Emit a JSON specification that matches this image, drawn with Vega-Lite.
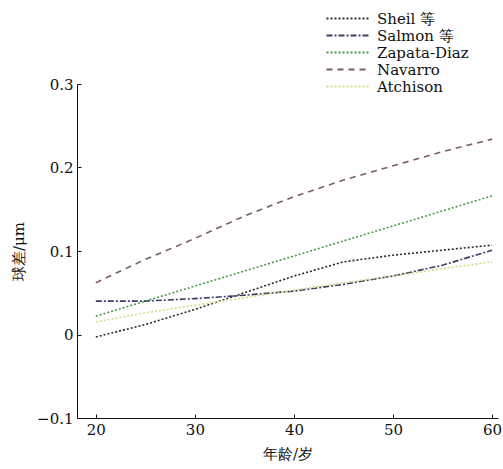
{
  "$schema": "https://vega.github.io/schema/vega-lite/v6.json",
  "autosize": "none",
  "width": 421,
  "height": 334,
  "padding": {"left": 77, "top": 84, "right": 5, "bottom": 51},
  "background": "white",
  "config": {
    "view": {"stroke": null},
    "font": "DejaVu Serif",
    "axis": {"labelFont": "DejaVu Serif", "labelFontSize": 15, "labelColor": "#111", "titleFont": "DejaVu Serif", "titleFontSize": 15, "titleFontWeight": "normal", "titleColor": "#111", "domainColor": "#111", "tickColor": "#111", "grid": false},
    "legend": {"labelFont": "DejaVu Serif"}
  },
  "data": {"values": [
    {"age": 20, "v": -0.003, "s": "Sheil 等"}, {"age": 25, "v": 0.012, "s": "Sheil 等"}, {"age": 30, "v": 0.03, "s": "Sheil 等"}, {"age": 35, "v": 0.05, "s": "Sheil 等"}, {"age": 40, "v": 0.07, "s": "Sheil 等"}, {"age": 45, "v": 0.087, "s": "Sheil 等"}, {"age": 50, "v": 0.095, "s": "Sheil 等"}, {"age": 55, "v": 0.101, "s": "Sheil 等"}, {"age": 60, "v": 0.107, "s": "Sheil 等"},
    {"age": 20, "v": 0.04, "s": "Salmon 等"}, {"age": 25, "v": 0.04, "s": "Salmon 等"}, {"age": 30, "v": 0.043, "s": "Salmon 等"}, {"age": 35, "v": 0.047, "s": "Salmon 等"}, {"age": 40, "v": 0.052, "s": "Salmon 等"}, {"age": 45, "v": 0.06, "s": "Salmon 等"}, {"age": 50, "v": 0.07, "s": "Salmon 等"}, {"age": 55, "v": 0.083, "s": "Salmon 等"}, {"age": 60, "v": 0.101, "s": "Salmon 等"},
    {"age": 20, "v": 0.022, "s": "Zapata-Diaz"}, {"age": 25, "v": 0.04, "s": "Zapata-Diaz"}, {"age": 30, "v": 0.058, "s": "Zapata-Diaz"}, {"age": 35, "v": 0.076, "s": "Zapata-Diaz"}, {"age": 40, "v": 0.094, "s": "Zapata-Diaz"}, {"age": 45, "v": 0.112, "s": "Zapata-Diaz"}, {"age": 50, "v": 0.13, "s": "Zapata-Diaz"}, {"age": 55, "v": 0.148, "s": "Zapata-Diaz"}, {"age": 60, "v": 0.166, "s": "Zapata-Diaz"},
    {"age": 20, "v": 0.062, "s": "Navarro"}, {"age": 25, "v": 0.09, "s": "Navarro"}, {"age": 30, "v": 0.115, "s": "Navarro"}, {"age": 35, "v": 0.142, "s": "Navarro"}, {"age": 40, "v": 0.165, "s": "Navarro"}, {"age": 45, "v": 0.185, "s": "Navarro"}, {"age": 50, "v": 0.202, "s": "Navarro"}, {"age": 55, "v": 0.219, "s": "Navarro"}, {"age": 60, "v": 0.234, "s": "Navarro"},
    {"age": 20, "v": 0.015, "s": "Atchison"}, {"age": 25, "v": 0.026, "s": "Atchison"}, {"age": 30, "v": 0.035, "s": "Atchison"}, {"age": 35, "v": 0.044, "s": "Atchison"}, {"age": 40, "v": 0.053, "s": "Atchison"}, {"age": 45, "v": 0.062, "s": "Atchison"}, {"age": 50, "v": 0.07, "s": "Atchison"}, {"age": 55, "v": 0.079, "s": "Atchison"}, {"age": 60, "v": 0.087, "s": "Atchison"}
  ]},
  "mark": {"type": "line", "strokeWidth": 1.6},
  "encoding": {
    "x": {"field": "age", "type": "quantitative", "scale": {"domain": [18.1, 60.6], "nice": false, "zero": false},
      "axis": {"title": "年龄/岁", "values": [20, 30, 40, 50, 60], "tickSize": -4, "labelPadding": 8, "titlePadding": 9}},
    "y": {"field": "v", "type": "quantitative", "scale": {"domain": [-0.1, 0.3], "nice": false},
      "axis": {"title": "球差/μm", "values": [-0.1, 0, 0.1, 0.2, 0.3], "format": ".1~f", "labelExpr": "datum.value < 0 ? '−0.1' : datum.label", "tickSize": -4, "labelPadding": 8, "titlePadding": 10}},
    "color": {"field": "s", "type": "nominal", "title": null,
      "scale": {"domain": ["Sheil 等", "Salmon 等", "Zapata-Diaz", "Navarro", "Atchison"], "range": ["#2a2a2a", "#3c3c66", "#4a9a4a", "#7a5a70", "#d8d88a"]},
      "legend": {"orient": "none", "legendX": 263, "legendY": -73, "symbolType": "M-4.2,0H4.2", "symbolSize": 100, "symbolStrokeWidth": 2, "symbolFillColor": "transparent", "labelFontSize": 15, "labelColor": "#111", "rowPadding": 1, "labelOffset": 22}},
    "strokeDash": {"field": "s", "type": "nominal", "title": null,
      "scale": {"domain": ["Sheil 等", "Salmon 等", "Zapata-Diaz", "Navarro", "Atchison"], "range": [[2, 2], [6, 2, 2, 2], [2, 2], [6, 5], [2, 2]]}}
  }
}
